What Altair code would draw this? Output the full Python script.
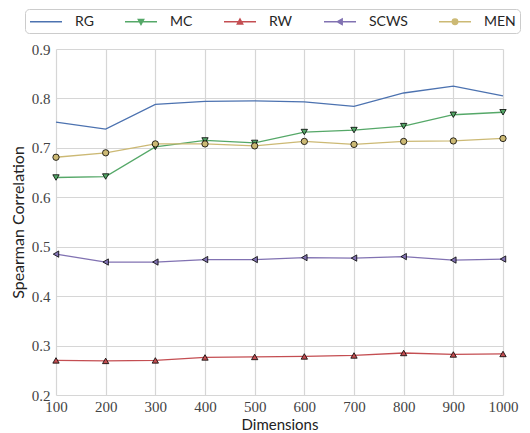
import altair as alt
import pandas as pd

dims = [100, 200, 300, 400, 500, 600, 700, 800, 900, 1000]
series = ["RG", "MC", "RW", "SCWS", "MEN"]
colors = ["#4C72B0", "#55A868", "#C44E52", "#8172B2", "#CCB974"]
marker_shapes = [None, "triangle-down", "triangle-up", "triangle-left", "circle"]

rg = [0.752, 0.738, 0.788, 0.794, 0.795, 0.793, 0.784, 0.811, 0.825, 0.805]
mc = [0.640, 0.642, 0.702, 0.715, 0.710, 0.732, 0.736, 0.744, 0.767, 0.772]
rw = [0.270, 0.269, 0.270, 0.276, 0.277, 0.278, 0.280, 0.285, 0.282, 0.283]
scws = [0.485, 0.469, 0.469, 0.474, 0.474, 0.478, 0.477, 0.480, 0.473, 0.475]
men = [0.681, 0.690, 0.708, 0.708, 0.704, 0.713, 0.707, 0.713, 0.714, 0.719]

values = {"RG": rg, "MC": mc, "RW": rw, "SCWS": scws, "MEN": men}
rows = []
for s in series:
    for d, v in zip(dims, values[s]):
        rows.append({"dim": d, "val": v, "series": s})
df = pd.DataFrame(rows)

# legend glyphs: a 32px line with the series marker in its middle.
SYM = 15.0                # symbol box (px)
U = SYM / 2.0             # px per path unit
L0, L1 = -SYM / 2.0, -SYM / 2.0 + 32.0   # line extent in px from symbol centre
MID = (L0 + L1) / 2.0
R = 2.8                   # marker half size px


def p(xp, yp):
    return f"{xp / U:.3f},{yp / U:.3f}"


line = f"M{p(L0, 0)}L{p(L1, 0)}"
legend_paths = [
    line,
    line + f"M{p(MID - R, -R * 0.8)}L{p(MID + R, -R * 0.8)}L{p(MID, R)}Z",
    line + f"M{p(MID - R, R * 0.8)}L{p(MID + R, R * 0.8)}L{p(MID, -R)}Z",
    line + f"M{p(MID + R * 0.8, -R)}L{p(MID + R * 0.8, R)}L{p(MID - R, 0)}Z",
    line + f"M{p(MID - R, 0)}A{R / U:.3f},{R / U:.3f},0,1,0,{p(MID + R, 0)}"
           f"A{R / U:.3f},{R / U:.3f},0,1,0,{p(MID - R, 0)}Z",
]

x = alt.X(
    "dim:Q",
    scale=alt.Scale(domain=[100, 1000], nice=False),
    axis=alt.Axis(values=dims, title="Dimensions", format="d", labelFlush=False,
                  labelOverlap=False, labelFont="Liberation Serif", labelFontSize=15,
                  labelColor="#444444", labelPadding=4, titlePadding=3, titleFontSize=15),
)
y = alt.Y(
    "val:Q",
    scale=alt.Scale(domain=[0.2, 0.9], nice=False, zero=False),
    axis=alt.Axis(values=[0.2, 0.3, 0.4, 0.5, 0.6, 0.7, 0.8, 0.9], format=".1f",
                  title="Spearman Correlation", labelFlush=False, labelOverlap=False,
                  labelFont="Liberation Serif", labelFontSize=15, labelColor="#444444",
                  labelPadding=6, titlePadding=5, titleFontSize=16),
)

layers = []
for s, c in zip(series, colors):
    layers.append(
        alt.Chart(df[df["series"] == s]).mark_line(strokeWidth=1.3, color=c).encode(x=x, y=y)
    )
for s, c, shp in zip(series, colors, marker_shapes):
    if shp is None:
        continue
    layers.append(
        alt.Chart(df[df["series"] == s]).mark_point(
            filled=True, fill=c, stroke="black", strokeWidth=0.8, opacity=1, size=40, shape=shp
        ).encode(x=x, y=y)
    )

legend = alt.Legend(
    title=None,
    orient="none",
    direction="horizontal",
    legendX=-31,
    legendY=-40,
    symbolSize=SYM * SYM,
    symbolStrokeWidth=1.3,
    symbolOpacity=1,
    labelFont="Lato",
    labelFontSize=14,
    labelColor="#262626",
    labelOffset=29,
    columnPadding=28,
    padding=4,
    fillColor="white",
    strokeColor="#cccccc",
    cornerRadius=4,
    values=series,
)

legend_layer = alt.Chart(df).transform_filter("false").mark_point(
    filled=True, size=SYM * SYM, opacity=1
).encode(
    x=x,
    y=y,
    fill=alt.Fill("series:N", scale=alt.Scale(domain=series, range=colors), legend=legend),
    stroke=alt.Stroke("series:N", scale=alt.Scale(domain=series, range=colors), legend=legend),
    shape=alt.Shape("series:N", scale=alt.Scale(domain=series, range=legend_paths), legend=legend),
)

chart = alt.layer(*layers, legend_layer).properties(
    width=447,
    height=346,
    padding={"left": 2, "top": 0, "right": 0, "bottom": 0},
).configure_view(stroke=None).configure_axis(
    grid=True,
    gridColor="#d6d6d6",
    gridWidth=1.2,
    domain=False,
    ticks=False,
    titleFont="Lato",
    titleFontWeight="normal",
    titleColor="#222222",
)

chart.save("out.html", embed_options={"renderer": "svg", "actions": False})
